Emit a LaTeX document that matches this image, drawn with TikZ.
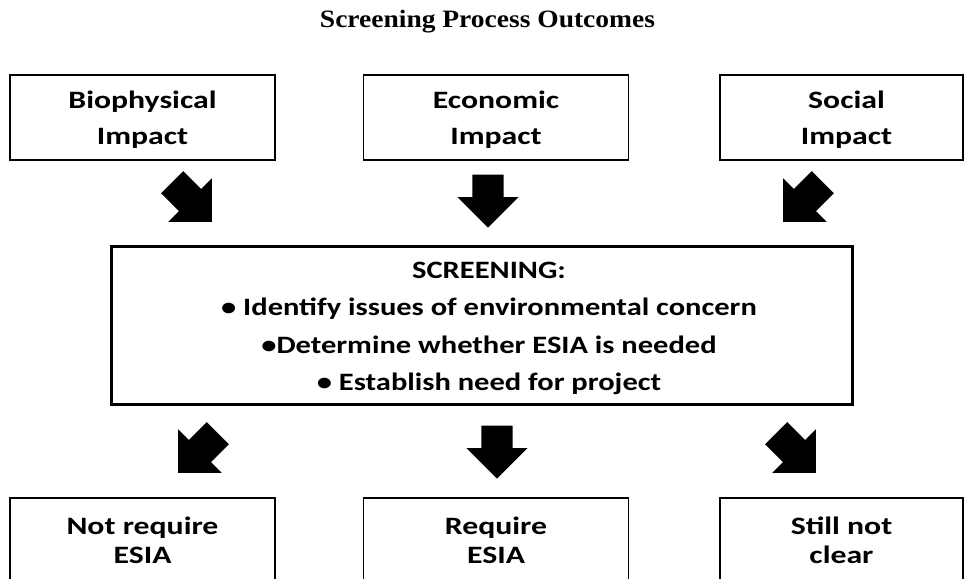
\documentclass[tikz,border=0pt]{standalone}
\usepackage{fontspec}
\setmainfont{Carlito}
\newfontfamily\boxfont{Carlito}[FakeStretch=1.27]
\newfontfamily\scrfont{Carlito}[FakeStretch=1.22]
\newfontfamily\titlefont{Liberation Serif}[FakeStretch=1.1]
\usetikzlibrary{positioning,shapes.arrows}

\begin{document}
\begin{tikzpicture}[x=1pt,y=1pt,node distance=208.5pt and 339pt,on grid,
	impbox/.style    ={draw,line width=1.5pt,minimum width=265pt,minimum height=85pt,align=center,text depth=0pt,font=\boxfont\fontsize{25}{36}\selectfont\bfseries},
	endbox/.style    ={impbox,text depth=,font=\boxfont\fontsize{25}{29}\selectfont\bfseries},
	mainbox/.style   ={draw,line width=3pt,minimum width=741pt,minimum height=158pt},
	scrtext/.style   ={align=center,font=\scrfont\fontsize{25}{37.5}\selectfont\bfseries},
	blockarrow/.style={single arrow,fill=black,draw=none,inner xsep=0pt,inner ysep=15.5pt,minimum height=53pt,single arrow head extend=15pt,single arrow tip angle=90,anchor=tip}]
	\useasboundingbox (0,0) rectangle (974,578);
	\node[font=\titlefont\fontsize{25}{30}\selectfont\bfseries,anchor=base] (head) at (487.5,550) {Screening Process Outcomes};
	\node[mainbox]        (scr)  at (481.5,252)    {};
	\node[scrtext]        (scrt) at (489,249.5)    {SCREENING:\\ \textbullet\ Identify issues of environmental concern\\ \textbullet Determine whether ESIA is needed\\ \textbullet\ Establish need for project};
	\node[impbox]         (bio)  [above left =208.5 and 339 of scr]  {Biophysical\\ Impact};
	\node[impbox]         (eco)  [above right=208.5 and 14.5 of scr] {Economic\\ Impact};
	\node[impbox,minimum width=243pt] (soc) [above right=208.5 and 360 of scr] {\hspace*{10pt}Social\\ \hspace*{10pt}Impact};
	\node[endbox]         (nreq) [below left =214.5 and 339 of scr]  {Not require\\ ESIA};
	\node[endbox]         (req)  [below right=214.5 and 14.5 of scr] {Require\\ ESIA};
	\node[endbox,minimum width=243pt] (open) [below right=214.5 and 360 of scr] {Still not\\ clear};
	% block arrows
	\node[blockarrow,rotate=-45,minimum height=56pt]  (bio-scr)  at (212,356) {};
	\node[blockarrow,rotate=-90]                      (eco-scr)  at (488,350) {};
	\node[blockarrow,rotate=-135,minimum height=56pt] (soc-scr)  at (783,356) {};
	\node[blockarrow,rotate=-135,minimum height=56pt] (scr-nreq) at (178,105) {};
	\node[blockarrow,rotate=-90]                      (scr-req)  at (497,99)  {};
	\node[blockarrow,rotate=-45,minimum height=56pt]  (scr-open) at (816,105) {};
\end{tikzpicture}
\end{document}
